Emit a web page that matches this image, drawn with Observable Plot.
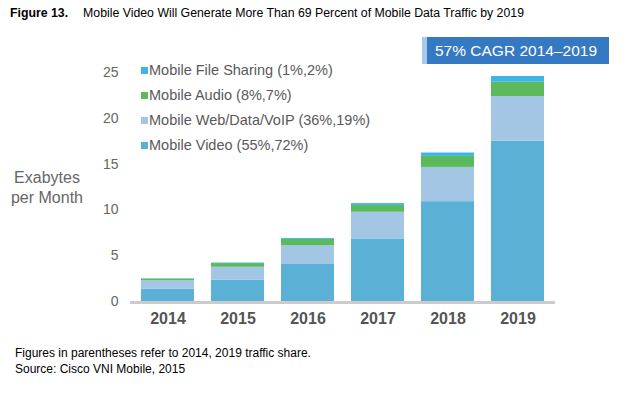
<!DOCTYPE html>
<html><head><meta charset="utf-8">
<script src="https://cdn.jsdelivr.net/npm/d3@7"></script>
<script src="https://cdn.jsdelivr.net/npm/@observablehq/plot@0.6"></script>
<style>
body{margin:0;background:#fff;font-family:"Liberation Sans",Arial,sans-serif;}
#wrap{position:relative;width:635px;height:394px;overflow:hidden;}
#title{height:26px;line-height:26px;padding-left:10px;font-size:12.3px;color:#000;white-space:nowrap;}
#title b{margin-right:15px;}
#foot{padding-top:9px;padding-left:15px;font-size:12px;line-height:16px;color:#000;}
.leg{position:absolute;left:141px;height:20px;line-height:20px;font-size:14.5px;color:#595959;white-space:nowrap;}
.leg span{display:inline-block;width:7px;height:7px;margin-right:1px;vertical-align:1px;}
#ylab{position:absolute;left:0;width:94px;top:168px;text-align:center;font-size:16px;line-height:20px;color:#666;}
#cagr{position:absolute;left:422px;top:37px;width:187px;height:27px;background:#3579c2;border-left:5px solid #a9c9e9;box-sizing:border-box;color:#fff;font-size:15.5px;line-height:27px;padding-left:8px;white-space:nowrap;}
</style>
</head><body>
<div id="wrap">
<div id="title"><b>Figure 13.</b>Mobile Video Will Generate More Than 69 Percent of Mobile Data Traffic by 2019</div>
<div id="chart"></div>
<div id="foot">Figures in parentheses refer to 2014, 2019 traffic share.<br>Source: Cisco VNI Mobile, 2015</div>
<div id="ylab">Exabytes<br>per Month</div>
<div id="cagr">57% CAGR 2014–2019</div>
<div id="legend"></div>
</div>
<script>
const years = ["2014","2015","2016","2017","2018","2019"];
const video = [1.35, 2.33, 4.04, 6.83, 10.9, 17.5];
const web = [0.9, 1.41, 2.07, 2.91, 3.74, 4.88];
const audio = [0.2, 0.4, 0.66, 0.75, 1.2, 1.56];
const fileSharing = [0.03, 0.06, 0.1, 0.2, 0.37, 0.62];
const seriesNames = ["Mobile Video","Mobile Web/Data/VoIP","Mobile Audio","Mobile File Sharing"];
const legendLabels = ["Mobile Video (55%,72%)","Mobile Web/Data/VoIP (36%,19%)","Mobile Audio (8%,7%)","Mobile File Sharing (1%,2%)"];
const colors = ["#5bb1d5","#a3c6e4","#5cba5c","#3cb6e3"];
const yTicks = [0,5,10,15,20,25];

const seriesValues = [video, web, audio, fileSharing];
const rows = [];
seriesNames.forEach((s, i) => years.forEach((y, j) => rows.push({year: y, series: s, value: seriesValues[i][j]})));

const chart = Plot.plot({
  width: 635,
  height: 310,
  marginLeft: 130,
  marginRight: 80,
  marginTop: 46,
  marginBottom: 35,
  style: {fontFamily: "'Liberation Sans', Arial, sans-serif", fontSize: "14px", background: "#fff"},
  x: {type: "band", domain: years, paddingInner: 0.24, paddingOuter: 0.12, label: null},
  y: {domain: [0, 25], label: null},
  color: {domain: seriesNames, range: colors},
  marks: [
    Plot.ruleY([0], {stroke: "#cccccc", strokeWidth: 3, dy: 1}),
    Plot.barY(rows, {x: "year", y: "value", fill: "series", order: seriesNames}),
    Plot.axisY({ticks: yTicks, tickSize: 0, tickPadding: 12, fontSize: 14, fill: "#666", label: null}),
    Plot.axisX({tickSize: 0, tickPadding: 11, fontSize: 16, fontWeight: "bold", fill: "#555", label: null})
  ]
});
document.getElementById("chart").appendChild(chart);

const legendTops = [60, 85, 110, 135];
const legend = document.getElementById("legend");
for (let k = 3; k >= 0; k--) {
  const d = document.createElement("div");
  d.className = "leg";
  d.style.top = legendTops[3 - k] + "px";
  d.innerHTML = `<span style="background:${colors[k]}"></span>` + legendLabels[k];
  legend.appendChild(d);
}
</script>
</body></html>
